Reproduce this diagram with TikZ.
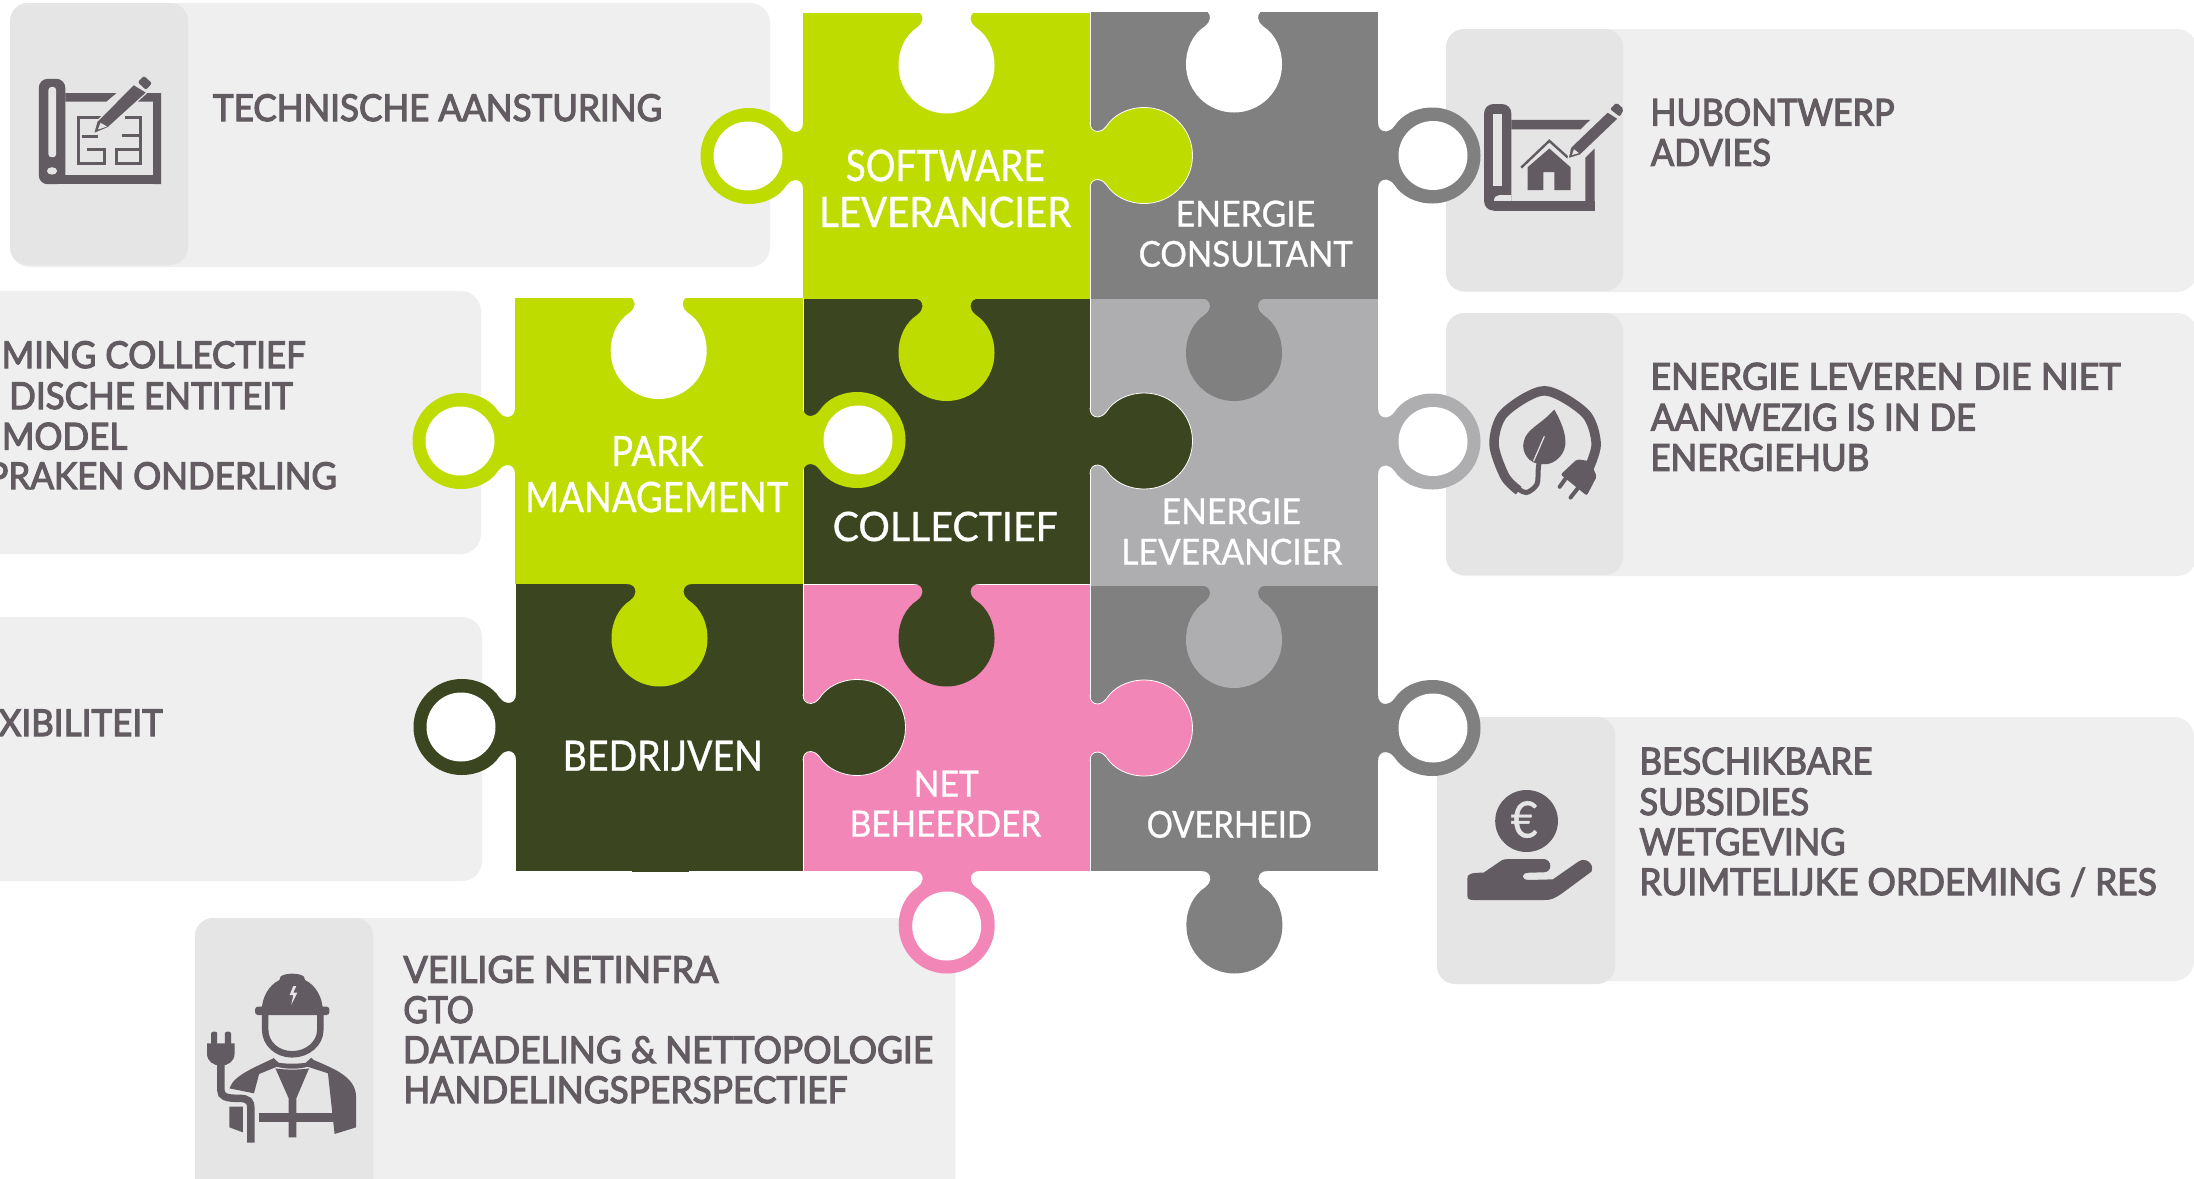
\documentclass[tikz,border=0pt]{standalone}
\usepackage{fontspec}
\setmainfont{Lato}
\newfontfamily\darkf[FakeBold=3.2]{Lato}
\newfontfamily\whitef[FakeBold=0.8]{Lato}
\definecolor{cardl}{HTML}{EFEFEF}
\definecolor{cardd}{HTML}{E5E5E5}
\definecolor{ic}{HTML}{625B61}
\definecolor{pgreen}{HTML}{BEDC00}
\definecolor{pgray}{HTML}{808080}
\definecolor{pdark}{HTML}{3B4620}
\definecolor{plight}{HTML}{AEAEB0}
\definecolor{ppink}{HTML}{F286B7}
\newsavebox\fb
\newsavebox\fbh
% width, cap height, text
\newcommand\fitt[3]{\sbox\fb{#3}\sbox\fbh{H}\ht\fb=\ht\fbh \dp\fb=0pt \resizebox{#1pt}{#2pt}{\usebox\fb}}
\newcommand\fitd[2]{\fitt{#1}{26.5}{\darkf #2}}
\newcommand\fitw[3]{\fitt{#1}{#2}{\whitef #3}}
% scaled as the reference line, for lines cut off by the page
\newcommand\fitref[1]{\sbox\fb{\darkf TECHNISCHE AANSTURING}\sbox\fbh{\darkf H}\pgfmathsetmacro\sxr{449/\wd\fb}\pgfmathsetmacro\syr{26.5/\ht\fbh}\scalebox{\sxr}[\syr]{\darkf #1}}
\newcommand\tabline{(0,-33) .. controls (0,-27) and (3,-24) .. (8,-24) .. controls (11,-24) and (13.5,-26) .. (16.2,-29) .. controls (24,-41) and (38,-48) .. (54.5,-48) .. controls (81,-48) and (102.5,-26.5) .. (102.5,0) .. controls (102.5,26.5) and (81,48) .. (54.5,48) .. controls (38,48) and (24,41) .. (16.2,29) .. controls (13.5,26) and (11,24) .. (8,24) .. controls (3,24) and (0,27) .. (0,33)}
% tab with a white edge: x, y, rotation, colour
\newcommand\ptab[4]{\begin{scope}[shift={(#1,#2)},rotate=#3]
 \fill[#4] (-2,-33) -- \tabline -- (-2,33) -- cycle;
 \draw[white,line width=0.8pt] \tabline;
\end{scope}}
% tab with no white edge
\newcommand\ptabv[4]{\begin{scope}[shift={(#1,#2)},rotate=#3]
 \fill[#4] (-2,-33) -- \tabline -- (-2,33) -- cycle;
\end{scope}}
\newcommand\pring[4]{\begin{scope}[shift={(#1,#2)},rotate=#3]
 \fill[#4] (-2,-33) -- \tabline -- (-2,33) -- cycle;
 \fill[white] (55,0) circle[radius=34.5];
\end{scope}}
\newcommand\pnotch[2]{\begin{scope}[shift={(#1,#2)},rotate=-90]
 \fill[white] (-2,-33) -- \tabline -- (-2,33) -- cycle;
\end{scope}}
\tikzset{
 carda/.style={fill=cardl,rounded corners=20pt},
 cardb/.style={fill=cardd,rounded corners=18pt},
 darklab/.style={inner sep=0pt,anchor=base west,text=ic,xshift=0.7pt},
 cutlab/.style={inner sep=0pt,anchor=base east,text=ic},
 whitelab/.style={inner sep=0pt,anchor=base west,text=white,xshift=0.5pt},
 icon/.style={fill=ic},
 gap/.style={fill=ic,draw=cardd,line width=1.2pt},
 maze/.style={draw=ic,line width=3pt},
 seam/.style={draw=white,line width=0.8pt}
}
\begin{document}
\begin{tikzpicture}[x=1pt,y=-1pt]
\useasboundingbox (0,0) rectangle (2194,1178);
\clip (0,0) rectangle (2194,1178);
\fill[white] (0,0) rectangle (2194,1178);
% cards
\fill[carda] (10,3) rectangle (770,267);
\fill[cardb] (10,3) rectangle (188,265);
\fill[carda] (-40,291) rectangle (481,554);
\fill[carda] (-40,617) rectangle (482,881);
\fill[carda] (195,918) rectangle (955.5,1200);
\fill[cardb] (195,918) rectangle (373,1200);
\fill[carda] (1446,29) rectangle (2197,292);
\fill[cardb] (1446,29) rectangle (1623,291);
\fill[carda] (1446,313) rectangle (2197,576);
\fill[cardb] (1446,313) rectangle (1623,575);
\fill[carda] (1437,717) rectangle (2194,981);
\fill[cardb] (1437,717) rectangle (1615,984);
% puzzle squares
\fill[pgreen] (803,12.6) rectangle (1090,298.5);
\fill[pgray] (1090,11.5) rectangle (1378,298.5);
\fill[pgreen] (515,298) rectangle (803,584);
\fill[pdark] (803,298.5) rectangle (1090,584);
\fill[plight] (1090,298.5) rectangle (1378,585.5);
\fill[pdark] (516,584) rectangle (803,870.5);
\fill[ppink] (803,584.3) rectangle (1090,871);
\fill[pgray] (1090,585.5) rectangle (1378,871);
\fill[pdark] (632,868) rectangle (689,872);
\draw[seam] (803,298) -- (803,871);
\draw[seam] (1090,12) -- (1090,871);
\draw[seam] (803,584.2) -- (1090,584.2);
% top notches
\pnotch{946.5}{11}
\pnotch{1234}{10}
\pnotch{658.7}{296.5}
% tabs
\pring{803}{156}{180}{pgreen}
\ptab{1090}{155.5}{0}{pgreen}
\ptabv{946.5}{298.5}{-90}{pgreen}
\pring{1378}{155.5}{0}{pgray}
\ptabv{1234}{298.5}{-90}{pgray}
\pring{515}{441}{180}{pgreen}
\pring{803}{440}{0}{pgreen}
\ptabv{659.5}{584}{-90}{pgreen}
\ptab{1090}{441}{0}{pdark}
\ptabv{946.5}{584}{-90}{pdark}
\pring{1378}{441.5}{0}{plight}
\ptabv{1234}{585.5}{-90}{plight}
\pring{516}{727}{180}{pdark}
\ptab{803}{727.5}{0}{pdark}
\ptab{1090}{728}{0}{ppink}
\pring{946.7}{871}{-90}{ppink}
\pring{1378}{728}{0}{pgray}
\ptabv{1234.4}{871}{-90}{pgray}
% puzzle labels
\node[whitelab] (softa) at (845,181) {\fitw{199}{31}{SOFTWARE}};
\node[whitelab] (softb) at (818.5,227) {\fitw{252}{30}{LEVERANCIER}};
\node[whitelab] (consa) at (1175,226.5) {\fitw{139.5}{25.6}{ENERGIE}};
\node[whitelab] (consb) at (1138,266.7) {\fitw{214}{25.6}{CONSULTANT}};
\node[whitelab] (parka) at (610.5,466) {\fitw{92}{30}{PARK}};
\node[whitelab] (parkb) at (524.5,512) {\fitw{263}{30}{MANAGEMENT}};
\node[whitelab] (coll) at (832,541) {\fitw{225}{29}{COLLECTIEF}};
\node[whitelab] (leva) at (1161,524) {\fitw{139}{25.6}{ENERGIE}};
\node[whitelab] (levb) at (1120.5,564.5) {\fitw{221}{25.6}{LEVERANCIER}};
\node[whitelab] (bedr) at (562,770.7) {\fitw{200}{30}{BEDRIJVEN}};
\node[whitelab] (neta) at (913,796.7) {\fitw{65}{26}{NET}};
\node[whitelab] (netb) at (849,836.7) {\fitw{191.5}{26}{BEHEERDER}};
\node[whitelab] (over) at (1146,837.7) {\fitw{165}{26.6}{OVERHEID}};
% card texts
\node[darklab] (t1) at (212,121) {\fitd{449}{TECHNISCHE AANSTURING}};
\node[cutlab] (t2a) at (306,368) {\fitref{MING COLLECTIEF}};
\node[cutlab] (t2b) at (293,409) {\fitref{DISCHE ENTITEIT}};
\node[cutlab] (t2c) at (127.5,449.5) {\fitref{MODEL}};
\node[cutlab] (t2d) at (337,489) {\fitref{PRAKEN ONDERLING}};
\node[cutlab] (t3) at (163,736) {\fitref{XIBILITEIT}};
\node[darklab] (t4a) at (402.5,982.7) {\fitd{315}{VEILIGE NETINFRA}};
\node[darklab] (t4b) at (402.5,1023) {\fitd{70.4}{GTO}};
\node[darklab] (t4c) at (402,1063) {\fitd{530}{DATADELING \& NETTOPOLOGIE}};
\node[darklab] (t4d) at (402.5,1103) {\fitd{444}{HANDELINGSPERSPECTIEF}};
\node[darklab] (t5a) at (1649.5,125.5) {\fitd{244}{HUBONTWERP}};
\node[darklab] (t5b) at (1650,165.7) {\fitd{120}{ADVIES}};
\node[darklab] (t6a) at (1649.5,389.6) {\fitd{470}{ENERGIE LEVEREN DIE NIET}};
\node[darklab] (t6b) at (1650,430.5) {\fitd{325}{AANWEZIG IS IN DE}};
\node[darklab] (t6c) at (1649.5,470.7) {\fitd{218.7}{ENERGIEHUB}};
\node[darklab] (t7a) at (1638.5,774.3) {\fitd{233}{BESCHIKBARE}};
\node[darklab] (t7b) at (1638.5,815) {\fitd{169.6}{SUBSIDIES}};
\node[darklab] (t7c) at (1638.5,855) {\fitd{206}{WETGEVING}};
\node[darklab] (t7d) at (1638.5,895) {\fitd{517}{RUIMTELIJKE ORDEMING / RES}};
% icon 1 blueprint
\begin{scope}[xscale=1/1.96,yscale=1/2.703]
 \fill[icon,rounded corners=9pt] (76,213) rectangle (128,498);
 \fill[icon] (100,472) rectangle (316,498);
 \fill[icon] (128,252) -- (228,252) -- (208,275) -- (128,275) -- cycle;
 \fill[icon] (282,252) -- (316,252) -- (316,498) -- (300,498) -- (300,275) -- (270,275) -- cycle;
 \fill[cardd,rounded corners=3pt] (95,235) rectangle (110,425);
 \fill[cardd] (102,462) circle[radius=10];
 \draw[maze] (205,318) -- (153,318) -- (153,442) -- (205,442) -- (205,405) -- (170,405);
 \draw[maze] (160,368) -- (192,368);
 \draw[maze] (245,318) -- (275,318) -- (275,442) -- (228,442) -- (228,405) -- (275,405);
 \draw[maze] (240,365) -- (275,365);
 \filldraw[gap] (183,362) -- (190,328) -- (262,228) -- (288,250) -- (212,345) -- cycle;
 \fill[icon,rounded corners=2pt] (270,222) -- (282,205) -- (298,225) -- (286,243) -- cycle;
 \fill[cardd] (192,350) -- (197,332) -- (210,342) -- cycle;
\end{scope}
% icon 2 house blueprint
\begin{scope}[shift={(1420,0)},xscale=1/2.026,yscale=1/2.613]
 \fill[icon,rounded corners=9pt] (130,272) rectangle (185,550);
 \fill[icon] (150,525) rectangle (354,550);
 \fill[cardd] (148,297) rectangle (166,485);
 \fill[cardd] (185,490) -- (185,525) -- (150,525) .. controls (150,505) and (165,510) .. (185,510) -- cycle;
 \fill[icon] (185,313) -- (345,313) -- (325,338) -- (185,338) -- cycle;
 \fill[icon] (354,388) -- (354,525) -- (335,525) -- (335,412) -- cycle;
 \fill[icon] (262,388) -- (305,437) -- (305,497) -- (272,497) -- (272,450) -- (250,450) -- (250,497) -- (218,497) -- (218,437) -- cycle;
 \draw[ic,line width=2.4pt] (205,438) -- (262,368) -- (300,412);
 \filldraw[gap] (300,415) -- (305,385) -- (380,292) -- (402,310) -- (325,405) -- cycle;
 \fill[icon,rounded corners=2pt] (385,285) -- (398,268) -- (413,285) -- (405,305) -- cycle;
 \fill[cardd] (308,405) -- (312,390) -- (322,400) -- cycle;
% icon 3 leaf and plug
 \draw[ic,line width=9.5pt] plot[smooth] coordinates {(340,1230) (357,1160) (335,1080) (252,1021) (170,1080) (150,1160) (172,1245) (200,1282)};
 \draw[ic,line width=5pt] plot[smooth] coordinates {(190,1270) (215,1287) (237,1265) (240,1220) (250,1140)};
 \fill[icon] (272,1070) .. controls (290,1110) and (300,1150) .. (292,1175) .. controls (285,1200) and (265,1215) .. (250,1213) .. controls (220,1215) and (205,1180) .. (210,1155) .. controls (215,1120) and (245,1110) .. (272,1070) -- cycle;
 \draw[cardd,line width=1.2pt] (252,1140) -- (230,1205);
 \fill[icon,rounded corners=2pt] (285,1240) -- (318,1200) -- (345,1205) -- (358,1245) -- (338,1295) -- cycle;
 \draw[ic,line width=4pt,line cap=round] (298,1245) -- (283,1272);
 \draw[ic,line width=4pt,line cap=round] (322,1272) -- (305,1300);
\end{scope}
% icon 4 worker
\begin{scope}[shift={(180,880)},xscale=1/1.96,yscale=1/3]
 \fill[icon] (160,395) .. controls (160,350) and (175,315) .. (195,300) -- (197,290) .. controls (205,278) and (235,278) .. (243,290) -- (245,300) .. controls (265,315) and (280,350) .. (280,395) -- cycle;
 \fill[icon,rounded corners=3pt] (147,380) rectangle (293,405);
 \fill[cardd] (222,318) -- (215,345) -- (222,345) -- (218,375) -- (230,338) -- (222,338) -- (228,318) -- cycle;
 \draw[ic,line width=6.5pt] (167,400) -- (167,450) .. controls (167,490) and (190,523) .. (220,523) .. controls (250,523) and (275,490) .. (275,450) -- (275,400);
 \fill[icon] (183,533) -- (193,548) .. controls (205,552) and (235,552) .. (247,548) -- (257,533) -- (262,540) .. controls (300,565) and (345,590) .. (345,650) -- (345,742) -- (303,762) -- (290,580) -- (250,560) .. controls (235,568) and (205,568) .. (190,560) -- (155,582) -- (145,640) -- (97,625) .. controls (105,585) and (150,560) .. (183,535) -- cycle;
 \fill[icon] (187,565) -- (213,655) -- (213,772) -- (228,772) -- (228,655) -- (253,565) .. controls (235,570) and (205,570) .. (187,565) -- cycle;
 \fill[icon] (155,700) rectangle (300,725);
 \fill[icon] (97,680) -- (123,680) -- (123,757) -- (97,742) -- cycle;
 \draw[ic,line width=7.5pt] (80,550) -- (80,630) .. controls (80,650) and (90,655) .. (115,655) .. controls (135,655) and (139,665) .. (139,685) -- (139,788);
 \fill[icon] (53,490) -- (107,490) -- (107,520) .. controls (107,545) and (95,555) .. (80,558) .. controls (65,555) and (53,545) .. (53,520) -- cycle;
 \fill[icon,rounded corners=2pt] (61,455) rectangle (73,495);
 \fill[icon,rounded corners=2pt] (88,455) rectangle (100,495);
\end{scope}
% icon 5 hand and coin
\begin{scope}[shift={(1400,680)},xscale=1/1.975,yscale=1/3]
 \fill[icon] (250,423) ellipse[x radius=62,y radius=93];
 \fill[icon] (133,595) .. controls (133,582) and (140,578) .. (165,578) -- (197,545) .. controls (203,538) and (208,537) .. (215,537) -- (283,537) .. controls (300,537) and (303,577) .. (283,577) -- (255,578) .. controls (238,578) and (238,600) .. (255,600) -- (302,598) -- (352,545) .. controls (365,530) and (385,550) .. (378,575) -- (320,640) .. controls (305,655) and (300,660) .. (285,660) -- (145,660) .. controls (135,660) and (133,655) .. (133,645) -- cycle;
\end{scope}
\node[inner sep=0pt,anchor=base west,text=cardd] (euro) at (1510.5,837.5) {\fitt{27}{36}{\whitef €}};
\end{tikzpicture}
\end{document}
